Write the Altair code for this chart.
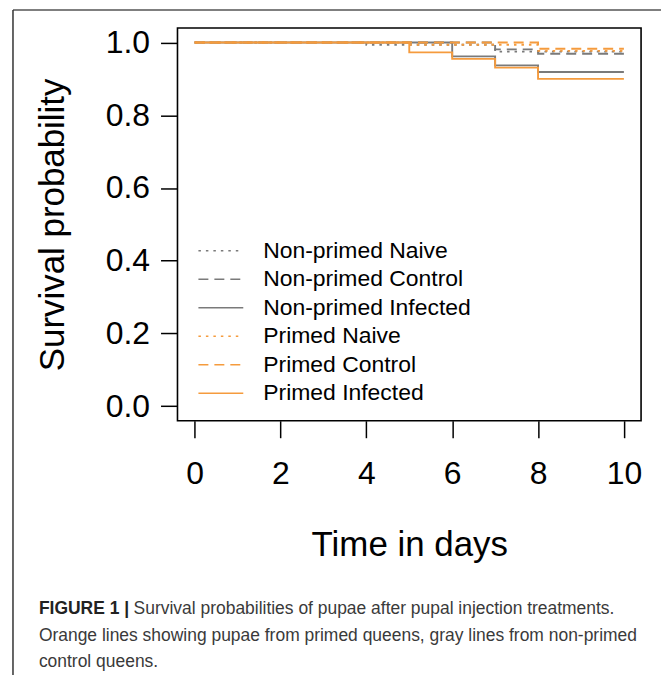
import altair as alt
import pandas as pd

# ---- data ----
series_names = ["Non-primed Naive", "Non-primed Control", "Non-primed Infected",
                "Primed Naive", "Primed Control", "Primed Infected"]
np_naive_t = [0, 4, 7, 10]
np_naive_s = [1.0, 0.994, 0.975, 0.975]
np_control_t = [0, 7, 8, 10]
np_control_s = [1.0, 0.981, 0.969, 0.969]
np_infected_t = [0, 6, 7, 8, 10]
np_infected_s = [1.0, 0.962, 0.937, 0.919, 0.919]
p_naive_t = [0, 5, 8, 10]
p_naive_s = [1.0, 0.994, 0.977, 0.977]
p_control_t = [0, 8, 10]
p_control_s = [1.0, 0.983, 0.983]
p_infected_t = [0, 5, 6, 7, 8, 10]
p_infected_s = [1.0, 0.973, 0.955, 0.931, 0.900, 0.900]

gray = "#7a7a7a"
orange = "#f59b3d"
series_colors = [gray, gray, gray, orange, orange, orange]
series_dashes = [[2.5, 5], [10, 6], [1, 0], [2.5, 5], [10, 6], [1, 0]]

x_ticks = [0, 2, 4, 6, 8, 10]
y_ticks = [0.0, 0.2, 0.4, 0.6, 0.8, 1.0]

caption_bold = "FIGURE 1 |"
caption_line1 = "Survival probabilities of pupae after pupal injection treatments."
caption_line2 = "Orange lines showing pupae from primed queens, gray lines from non-primed"
caption_line3 = "control queens."

times = [np_naive_t, np_control_t, np_infected_t, p_naive_t, p_control_t, p_infected_t]
survs = [np_naive_s, np_control_s, np_infected_s, p_naive_s, p_control_s, p_infected_s]
rows = []
for i, (name, ts, ss) in enumerate(zip(series_names, times, survs)):
    for t, s in zip(ts, ss):
        rows.append({"series": name, "idx": i, "time": t, "surv": s})
df = pd.DataFrame(rows)

FONT = "Liberation Sans"
CAP_FONT = "Liberation Sans"

legend = alt.Legend(
    orient="none", legendX=20, legendY=212, padding=0,
    symbolType="stroke", symbolSize=2025, symbolStrokeWidth=1.5,
    labelFontSize=23, labelFont=FONT, labelColor="black", labelOffset=19,
    rowPadding=4.6, clipHeight=23, labelLimit=400,
)

lines = alt.Chart(df).mark_line(interpolate="step-after", strokeWidth=1.9).encode(
    x=alt.X("time:Q",
            scale=alt.Scale(domain=[-0.4, 10.4], nice=False, zero=False),
            axis=alt.Axis(values=x_ticks, format="d", title="Time in days",
                          titleFontSize=35, titleFont=FONT, titleFontWeight="normal",
                          titleColor="black", titleY=135, titleBaseline="alphabetic",
                          labelFontSize=32, labelFont=FONT, labelColor="black",
                          labelPadding=21, tickSize=17, tickWidth=1.5,
                          tickColor="black", domain=False, grid=False)),
    y=alt.Y("surv:Q",
            scale=alt.Scale(domain=[-0.04, 1.04], nice=False, zero=False),
            axis=alt.Axis(values=y_ticks, format=".1f", title="Survival probability",
                          titleFontSize=35, titleFont=FONT, titleFontWeight="normal",
                          titleColor="black", titleX=-114, titleBaseline="alphabetic",
                          labelFontSize=32, labelFont=FONT, labelColor="black",
                          labelPadding=11, tickSize=17, tickWidth=1.5,
                          tickColor="black", domain=False, grid=False)),
    color=alt.Color("series:N", title=None,
                    scale=alt.Scale(domain=series_names, range=series_colors),
                    legend=legend),
    strokeDash=alt.StrokeDash("series:N", title=None,
                              scale=alt.Scale(domain=series_names, range=series_dashes),
                              legend=legend),
    order=alt.Order("time:Q"),
)

one = pd.DataFrame({"k": [0]})
frame_top = alt.Chart(one).mark_rule(color="#555555", strokeWidth=1.5).encode(
    x=alt.value(-165), x2=alt.value(485), y=alt.value(-18))
frame_left = alt.Chart(one).mark_rule(color="#333333", strokeWidth=1.5).encode(
    x=alt.value(-165), y=alt.value(-18), y2=alt.value(649))

def cap(text, x, y, bold=False):
    return alt.Chart(pd.DataFrame({"t": [text]})).mark_text(
        align="left", baseline="middle", font=CAP_FONT, fontSize=17.5,
        fontWeight="bold" if bold else "normal",
        color="#222222" if bold else "#3a3a3a").encode(
        text="t:N", x=alt.value(x), y=alt.value(y))

captions = [
    cap(caption_bold, -139, 583, bold=True),
    cap(caption_line1, -44, 583),
    cap(caption_line2, -139, 610),
    cap(caption_line3, -139, 636),
]

chart = alt.layer(frame_top, frame_left, lines, *captions).properties(
    width=465, height=394,
    padding={"left": 4, "top": 0, "right": 0, "bottom": 0},
    background="white",
).configure_view(stroke="black", strokeWidth=1.6)

chart.save("out.html", embed_options={"renderer": "svg", "actions": False})
